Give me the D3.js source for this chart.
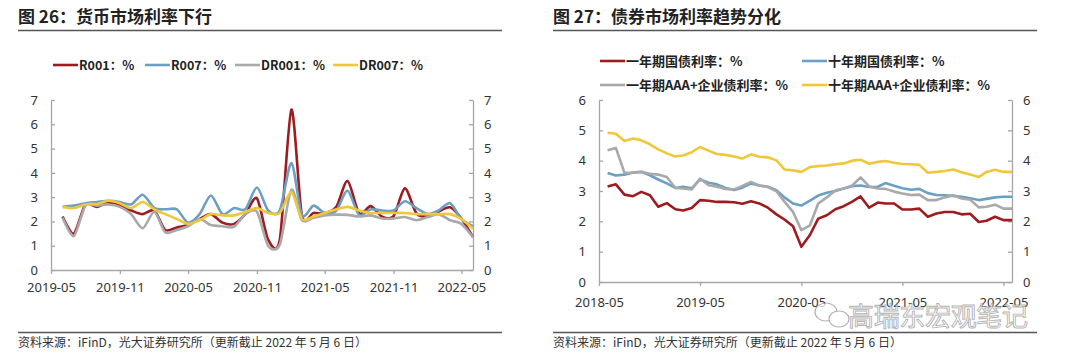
<html>
<head>
<meta charset="utf-8">
<style>
  body { margin:0; padding:0; background:#fff; }
  text { font-family: "Noto Sans CJK SC", "Noto Sans", sans-serif; }
</style>
</head>
<body>
<svg width="1080" height="361"></svg>
<script src="https://d3js.org/d3.v7.min.js"></script>
<script>
// ---- data: money market (monthly, 2019-05 .. 2022-05) ----
var moneyStart = "2019-05-15";
var r001  = [2.2,1.5,2.7,2.6,2.78,2.65,2.45,2.3,2.45,1.65,1.75,1.85,2.1,2.3,1.95,1.9,2.3,2.95,1.25,1.25,6.6,2.25,2.35,2.33,2.6,3.66,2.33,2.63,2.2,2.22,3.36,2.33,2.2,2.4,2.58,2.12,1.35];
var r007  = [2.6,2.65,2.75,2.8,2.85,2.8,2.7,3.1,2.55,2.5,2.5,1.95,2.3,3.07,2.3,2.55,2.5,3.4,2.45,2.45,4.4,2.26,2.65,2.35,2.45,3.26,2.26,2.5,2.45,2.45,2.83,2.55,2.3,2.45,2.75,2.1,1.8];
var dr001 = [2.15,1.4,2.65,2.65,2.7,2.6,2.3,1.72,2.4,1.55,1.65,1.8,2.1,1.85,1.8,1.78,2.3,2.4,1.0,1.05,3.3,2.05,2.15,2.25,2.28,2.27,2.2,2.25,2.12,2.12,2.18,2.05,2.18,2.3,2.05,1.9,1.35];
var dr007 = [2.6,2.55,2.7,2.72,2.85,2.75,2.55,2.8,2.5,2.3,2.1,1.9,2.05,2.3,2.25,2.25,2.4,2.55,2.35,2.35,3.2,2.1,2.2,2.35,2.5,2.6,2.45,2.35,2.35,2.35,2.35,2.3,2.3,2.3,2.3,2.1,1.7];
var moneyTicks = ["2019-05","2019-11","2020-05","2020-11","2021-05","2021-11","2022-05"];
var moneyNames = ["R001：%","R007：%","DR001：%","DR007：%"];

// ---- data: bond market (monthly, 2018-05 .. 2022-05) ----
var bondStart = "2018-05-15";
var gov1y  = [3.15,3.22,2.88,2.83,2.97,2.86,2.48,2.6,2.4,2.36,2.44,2.7,2.68,2.64,2.64,2.63,2.58,2.66,2.59,2.45,2.23,2.06,1.84,1.16,1.55,2.09,2.2,2.4,2.5,2.65,2.82,2.45,2.62,2.59,2.59,2.39,2.39,2.42,2.15,2.26,2.31,2.31,2.23,2.25,1.98,2.02,2.15,2.04,2.04];
var gov10y = [3.59,3.51,3.54,3.61,3.63,3.52,3.38,3.25,3.1,3.14,3.09,3.38,3.27,3.22,3.1,3.03,3.11,3.25,3.18,3.14,3.03,2.79,2.59,2.52,2.68,2.85,2.94,3.0,3.08,3.16,3.18,3.13,3.14,3.26,3.17,3.09,3.04,3.07,2.93,2.87,2.86,2.84,2.81,2.76,2.7,2.74,2.79,2.81,2.81];
var aaa1y  = [4.34,4.42,3.6,3.6,3.63,3.57,3.54,3.46,3.1,3.08,3.05,3.41,3.19,3.14,3.07,3.05,3.17,3.3,3.18,3.13,2.99,2.65,2.31,1.71,1.87,2.59,2.79,3.02,3.08,3.18,3.45,3.15,3.08,3.07,2.98,2.92,2.87,2.88,2.7,2.7,2.79,2.86,2.75,2.71,2.46,2.48,2.55,2.42,2.42];
var aaa10y = [4.92,4.89,4.65,4.73,4.67,4.54,4.37,4.24,4.14,4.17,4.28,4.45,4.33,4.22,4.19,4.14,4.07,4.21,4.13,4.11,4.01,3.71,3.68,3.63,3.79,3.82,3.84,3.88,3.91,4.0,4.03,3.9,3.96,3.99,3.93,3.89,3.88,3.86,3.6,3.63,3.66,3.71,3.62,3.54,3.46,3.63,3.7,3.63,3.63];
var bondTicks = ["2018-05","2019-05","2020-05","2021-05","2022-05"];
var bondNames = ["一年期国债利率：%","十年期国债利率：%","一年期AAA+企业债利率：%","十年期AAA+企业债利率：%"];

var colors = ["#9e1b20", "#6c9fc4", "#a9a9a9", "#efc73a"];
var parse = d3.timeParse("%Y-%m-%d");
var parseM = d3.timeParse("%Y-%m");
var fmt = d3.timeFormat("%Y-%m");

var svg = d3.select("svg");
svg.append("rect").attr("width", 1080).attr("height", 361).attr("fill", "#fff");

function panel(cfg) {
	var g = svg.append("g");

	g.append("text").attr("x", cfg.left).attr("y", 23)
		.attr("font-size", 17).attr("font-weight", "bold").attr("fill", "#222")
		.text(cfg.title);
	g.append("line").attr("x1", cfg.left).attr("x2", cfg.right).attr("y1", 30.5).attr("y2", 30.5)
		.attr("stroke", "#555").attr("stroke-width", 1.5);
	g.append("line").attr("x1", cfg.left).attr("x2", cfg.right).attr("y1", 332.5).attr("y2", 332.5)
		.attr("stroke", "#555").attr("stroke-width", 1.3);
	g.append("text").attr("x", cfg.left).attr("y", 347)
		.attr("font-size", 12).attr("fill", "#333")
		.text("资料来源：iFinD，光大证券研究所（更新截止 2022 年 5 月 6 日）");

	var start = parse(cfg.start);
	var dates = d3.timeMonth.range(start, d3.timeMonth.offset(start, cfg.series[0].length));

	var x = d3.scaleTime().domain(cfg.xDomain.map(parseM)).range(cfg.xRange);
	var y = d3.scaleLinear().domain([0, cfg.yMax]).range(cfg.yRange);

	var axisStyle = function(sel) {
		sel.select(".domain").attr("stroke", "#a6a6a6").attr("stroke-width", 1.3);
		sel.selectAll(".tick line").attr("stroke", "#a6a6a6").attr("stroke-width", 1.3);
		sel.selectAll(".tick text").attr("fill", "#333").attr("font-size", 13)
			.style("font-family", "'Noto Sans', sans-serif");
	};

	g.append("g").attr("transform", "translate(" + cfg.xRange[0] + ",0)")
		.call(d3.axisLeft(y).ticks(cfg.yMax).tickSize(-4).tickSizeOuter(0).tickPadding(13))
		.call(axisStyle);
	g.append("g").attr("transform", "translate(" + cfg.xRange[1] + ",0)")
		.call(d3.axisRight(y).ticks(cfg.yMax).tickSize(-4).tickSizeOuter(0).tickPadding(11))
		.call(axisStyle);
	g.append("g").attr("transform", "translate(0," + cfg.yRange[0] + ")")
		.call(d3.axisBottom(x).tickValues(cfg.ticks.map(parseM)).tickFormat(fmt)
			.tickSize(4).tickSizeOuter(0).tickPadding(cfg.xPad))
		.call(axisStyle);

	var line = d3.line()
		.x(function(d, i) { return x(dates[i]); })
		.y(function(d) { return y(d); })
		.curve(cfg.curve);

	cfg.series.forEach(function(s, k) {
		g.append("path").datum(s)
			.attr("d", line)
			.attr("fill", "none")
			.attr("stroke", colors[k])
			.attr("stroke-width", 2.6)
			.attr("stroke-linejoin", "round");
	});

	// legend
	cfg.legend.forEach(function(p, k) {
		g.append("line").attr("x1", p[0]).attr("x2", p[0] + 25).attr("y1", p[1]).attr("y2", p[1])
			.attr("stroke", colors[k]).attr("stroke-width", 2.6);
		g.append("text").attr("x", p[0] + 26).attr("y", p[1]).attr("dy", "0.36em")
			.attr("font-size", cfg.legendSize).attr("font-weight", "bold").attr("fill", "#222")
			.text(cfg.names[k]);
	});
}

panel({
	title: "图 26：货币市场利率下行",
	left: 18, right: 502,
	start: moneyStart,
	series: [r001, r007, dr001, dr007],
	names: moneyNames,
	ticks: moneyTicks,
	xDomain: ["2019-05", "2022-06"], xRange: [51, 473],
	yMax: 7, yRange: [270, 100],
	xPad: 9,
	curve: d3.curveCardinal.tension(0.2),
	legendSize: 12.5,
	legend: [[53, 65], [145, 65], [235, 65], [333, 65]]
});

panel({
	title: "图 27：债券市场利率趋势分化",
	left: 553, right: 1037,
	start: bondStart,
	series: [gov1y, gov10y, aaa1y, aaa10y],
	names: bondNames,
	ticks: bondTicks,
	xDomain: ["2018-05", "2022-06"], xRange: [599, 1012],
	yMax: 6, yRange: [282, 100],
	xPad: 12,
	curve: d3.curveLinear,
	legendSize: 13,
	legend: [[600, 61], [802, 61], [600, 85], [802, 85]]
});

// watermark (overlays the axis labels, as in the source image)
var wm = svg.append("g").attr("opacity", 0.75);
wm.append("ellipse").attr("cx", 826).attr("cy", 312).attr("rx", 11).attr("ry", 9)
	.attr("fill", "#fff").attr("stroke", "#999").attr("stroke-width", 1.2);
wm.append("ellipse").attr("cx", 839).attr("cy", 319).attr("rx", 10).attr("ry", 8)
	.attr("fill", "#fff").attr("stroke", "#999").attr("stroke-width", 1.2);
wm.append("text").attr("x", 848).attr("y", 326)
	.attr("font-size", 26).attr("fill", "#fff").attr("stroke", "#9a9a9a").attr("stroke-width", 0.9)
	.attr("textLength", 180)
	.text("高瑞东宏观笔记");
</script>
</body>
</html>
